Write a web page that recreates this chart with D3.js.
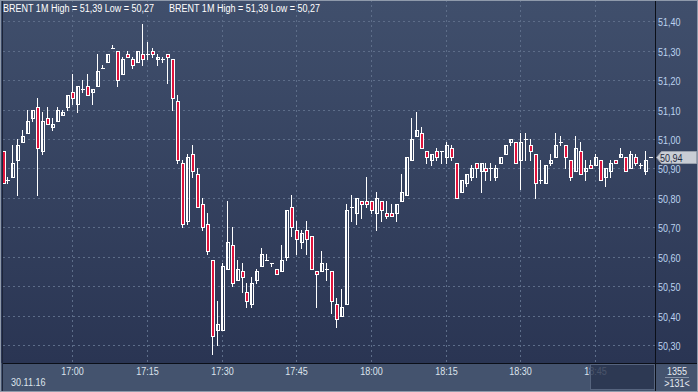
<!DOCTYPE html>
<html>
<head>
<meta charset="utf-8">
<script src="https://cdn.jsdelivr.net/npm/d3@7/dist/d3.min.js"></script>
<style>
  html, body { margin: 0; padding: 0; background: #2b3654; }
  svg { display: block; }
  text { font-family: "Liberation Sans", Arial, sans-serif; }
</style>
</head>
<body>
<svg id="chart" width="698" height="392"></svg>
<script>
// ---- Data (1-minute BRENT candles, 30.11.16, 16:46 .. 18:56) ----
const startTime = "2016-11-30T16:46:00";
const opens = [
  50.96,50.86,50.87,50.93,50.99,51.02,51.07,51.11,50.96,51.07,
  51.04,51.06,51.08,51.11,51.16,51.12,51.17,51.18,51.16,51.18,
  51.24,51.26,51.31,51.30,51.22,51.29,51.27,51.26,51.29,51.29,
  51.30,51.27,51.27,51.29,51.27,51.13,50.92,50.72,50.95,50.88,
  50.78,50.71,50.59,50.35,50.35,50.56,50.64,50.52,50.55,50.48,
  50.44,50.52,50.57,50.59,50.58,50.56,50.55,50.60,50.77,50.69,
  50.65,50.69,50.67,50.55,50.55,50.56,50.55,50.44,50.40,50.44,
  50.77,50.75,50.79,50.79,50.79,50.75,50.79,50.75,50.75,50.75,
  50.79,50.81,50.93,51.01,51.02,50.96,50.93,50.96,50.96,50.94,
  50.97,50.92,50.82,50.85,50.87,50.92,50.89,50.90,50.90,50.87,
  50.92,50.95,50.99,50.99,50.93,51.00,50.98,50.95,50.86,50.85,
  50.92,50.94,50.99,50.98,50.93,50.89,50.96,50.89,50.91,50.91,
  50.93,50.87,50.89,50.93,50.94,50.94,50.90,50.94,50.91,50.89,
  50.94
];
const highs = [
  50.96,50.87,50.98,51.00,51.03,51.10,51.10,51.14,51.09,51.11,
  51.07,51.11,51.10,51.15,51.22,51.18,51.20,51.22,51.17,51.29,
  51.25,51.29,51.32,51.30,51.28,51.30,51.28,51.30,51.39,51.33,
  51.31,51.29,51.28,51.29,51.27,51.15,50.93,50.95,50.98,50.90,
  50.80,50.75,50.59,50.45,50.58,50.79,50.70,50.59,50.58,50.51,
  50.53,50.56,50.63,50.61,50.58,50.56,50.64,50.76,50.81,50.72,
  50.69,50.72,50.67,50.55,50.62,50.58,50.55,50.46,50.49,50.78,
  50.81,50.80,50.79,50.87,50.79,50.82,50.79,50.79,50.78,50.78,
  50.88,50.94,51.07,51.09,51.04,50.96,50.95,50.97,50.96,50.99,
  50.98,50.92,50.86,50.88,50.91,50.92,50.92,50.92,50.92,50.91,
  50.94,50.98,51.00,50.99,51.02,51.02,51.00,50.95,50.93,50.91,
  50.95,51.02,51.01,50.98,50.93,51.01,50.99,50.93,50.93,50.95,
  50.93,50.90,50.93,50.93,50.97,50.94,50.96,50.95,50.92,50.96,
  50.94
];
const lows = [
  50.85,50.85,50.87,50.81,50.99,51.02,51.06,50.81,50.95,51.05,
  51.03,51.06,51.08,51.10,51.12,51.09,51.16,51.15,51.12,51.18,
  51.24,51.26,51.31,51.18,51.22,51.28,51.24,51.26,51.25,51.27,
  51.28,51.25,51.26,51.19,51.10,50.92,50.70,50.71,50.87,50.77,
  50.69,50.61,50.27,50.30,50.35,50.56,50.50,50.52,50.48,50.43,
  50.43,50.51,50.57,50.59,50.57,50.54,50.55,50.59,50.67,50.61,
  50.63,50.61,50.56,50.43,50.55,50.52,50.41,50.36,50.40,50.44,
  50.72,50.71,50.73,50.77,50.75,50.69,50.72,50.73,50.74,50.72,
  50.79,50.81,50.93,51.01,50.97,50.92,50.91,50.93,50.92,50.92,
  50.93,50.80,50.82,50.84,50.86,50.87,50.82,50.86,50.86,50.86,
  50.92,50.95,50.98,50.92,50.83,50.93,50.93,50.80,50.85,50.85,
  50.91,50.94,50.98,50.90,50.86,50.89,50.88,50.86,50.90,50.91,
  50.86,50.84,50.87,50.92,50.94,50.89,50.90,50.91,50.90,50.88,
  50.94
];
const closes = [
  50.85,50.86,50.92,50.98,51.01,51.06,51.10,50.97,51.06,51.05,
  51.05,51.10,51.09,51.15,51.14,51.18,51.17,51.15,51.17,51.23,
  51.24,51.29,51.31,51.20,51.27,51.28,51.25,51.30,51.27,51.29,
  51.29,51.28,51.27,51.28,51.14,50.93,50.71,50.94,50.89,50.77,
  50.70,50.62,50.33,50.37,50.57,50.65,50.51,50.56,50.53,50.45,
  50.51,50.55,50.61,50.59,50.58,50.54,50.59,50.76,50.70,50.66,
  50.68,50.66,50.56,50.54,50.58,50.56,50.45,50.39,50.43,50.76,
  50.77,50.80,50.78,50.78,50.76,50.80,50.76,50.74,50.74,50.78,
  50.82,50.94,51.00,51.03,50.97,50.94,50.95,50.94,50.96,50.98,
  50.94,50.80,50.86,50.88,50.90,50.90,50.92,50.89,50.90,50.90,
  50.94,50.98,51.00,50.92,50.99,51.00,50.96,50.85,50.86,50.91,
  50.93,50.98,50.99,50.94,50.87,50.97,50.88,50.90,50.90,50.94,
  50.86,50.90,50.92,50.92,50.95,50.89,50.95,50.92,50.91,50.93,
  50.94
];
const priceTicks = [50.30,50.40,50.50,50.60,50.70,50.80,50.90,51.00,51.10,51.20,51.30,51.40];
const timeTickLabels = ["17:00","17:15","17:30","17:45","18:00","18:15","18:30","18:45"];
const legendTexts = ["BRENT 1M High = 51,39 Low = 50,27", "BRENT 1M High = 51,39 Low = 50,27"];
const dateLabel = "30.11.16";
const barCount = "1355";
const visibleCount = ">131<";

// ---- Layout ----
const W = 698, H = 392;
const plotL = 3, plotR = 655, plotB = 363;

const parse = d3.timeParse("%Y-%m-%dT%H:%M:%S");
const t0 = parse(startTime);
const times = opens.map((_, i) => d3.timeMinute.offset(t0, i));
const candles = times.map((t, i) => ({t, o: opens[i], h: highs[i], l: lows[i], c: closes[i]}));

const x = d3.scaleTime().domain([times[0], times[times.length - 1]]).range([3.0, 650.3]);
const y = d3.scaleLinear().domain([50.30, 51.40]).range([345.6, 21.7]);
const px = v => Math.floor(x(v));
const py = v => Math.floor(y(v)) + 0.5;

const svg = d3.select("#chart");
const defs = svg.append("defs");
const grad = defs.append("linearGradient").attr("id", "bg").attr("x1", 0).attr("y1", 0).attr("x2", 0).attr("y2", 1);
grad.append("stop").attr("offset", "0%").attr("stop-color", "#404f6c");
grad.append("stop").attr("offset", "100%").attr("stop-color", "#2a3553");
defs.append("clipPath").attr("id", "plotClip").append("rect")
  .attr("x", plotL).attr("y", 0).attr("width", plotR - plotL).attr("height", plotB);

// backgrounds
svg.append("rect").attr("x", 0).attr("y", 0).attr("width", W).attr("height", plotB).attr("fill", "url(#bg)");
svg.append("rect").attr("x", 0).attr("y", plotB).attr("width", W).attr("height", H - plotB).attr("fill", "#44536e");

// grid
const grid = svg.append("g").attr("clip-path", "url(#plotClip)");
grid.selectAll("line.h").data(priceTicks).join("line")
  .attr("x1", plotL).attr("x2", plotR)
  .attr("y1", d => py(d)).attr("y2", d => py(d))
  .attr("stroke", "#5d6d89").attr("stroke-width", 1).attr("stroke-dasharray", "2,3");
const timeParseHM = d3.timeParse("%Y-%m-%d %H:%M");
const timeTicks = timeTickLabels.map(s => timeParseHM("2016-11-30 " + s));
grid.selectAll("line.v").data(timeTicks).join("line")
  .attr("x1", d => px(d) + 0.5).attr("x2", d => px(d) + 0.5)
  .attr("y1", 0).attr("y2", plotB)
  .attr("stroke", "#5d6d89").attr("stroke-width", 1).attr("stroke-dasharray", "2,3");

// candles
const cg = svg.append("g").attr("clip-path", "url(#plotClip)");
const g = cg.selectAll("g.c").data(candles).join("g");
g.append("line")
  .attr("x1", d => px(d.t) + 0.5).attr("x2", d => px(d.t) + 0.5)
  .attr("y1", d => Math.floor(y(d.h))).attr("y2", d => Math.floor(y(d.l)) + 1)
  .attr("stroke", "#ffffff").attr("stroke-width", 1);
g.each(function(d) {
  const sel = d3.select(this);
  const top = py(Math.max(d.o, d.c)), bot = py(Math.min(d.o, d.c));
  const p = px(d.t);
  if (bot - top < 1) {
    sel.append("line").attr("x1", p - 1).attr("x2", p + 3).attr("y1", top).attr("y2", top)
      .attr("stroke", "#ffffff").attr("stroke-width", 1);
  } else {
    sel.append("rect").attr("x", p - 0.5).attr("y", top).attr("width", 3).attr("height", bot - top)
      .attr("fill", d.c < d.o ? "#e0133c" : "#34405d")
      .attr("fill-opacity", d.c < d.o ? 1 : 0)
      .attr("stroke", "#ffffff").attr("stroke-width", 1);
  }
});

// frame lines
svg.append("line").attr("x1", plotL).attr("x2", W).attr("y1", plotB + 0.5).attr("y2", plotB + 0.5).attr("stroke", "#0b0f18");
svg.append("line").attr("x1", plotR + 0.5).attr("x2", plotR + 0.5).attr("y1", 0).attr("y2", H).attr("stroke", "#0b0f18");
svg.append("line").attr("x1", 2.5).attr("x2", 2.5).attr("y1", 0).attr("y2", H).attr("stroke", "#1c2438");

// legend
const sx = 0.82;
const legendX = [3, 169];
legendTexts.forEach((t, i) => {
  svg.append("text").attr("transform", `translate(${legendX[i]},12) scale(${sx},1)`)
    .attr("font-size", "11px").attr("fill", "#ffffff").text(t);
});

// right price axis
const ax = 0.86;
const yAxis = d3.axisRight(y).tickValues(priceTicks).tickSize(0)
  .tickFormat(d => d.toFixed(2).replace(".", ","));
const yg = svg.append("g").attr("transform", `translate(${plotR + 0.5},0)`).call(yAxis);
yg.select(".domain").remove();
yg.selectAll(".tick").attr("transform", d => `translate(0,${py(d)})`);
yg.selectAll("text").attr("x", 2.4 / ax).attr("dy", null).attr("y", 4.6)
  .attr("transform", `scale(${ax},1)`)
  .attr("font-family", "Liberation Sans, Arial, sans-serif")
  .attr("font-size", "10.5px").attr("fill", "#bcd3ef");

// bottom time axis
const xAxis = d3.axisBottom(x).tickValues(timeTicks).tickSize(0).tickFormat(d3.timeFormat("%H:%M"));
const xg = svg.append("g").attr("transform", `translate(0,${plotB})`).call(xAxis);
xg.select(".domain").remove();
xg.selectAll(".tick").attr("transform", d => `translate(${px(d) + 0.5},0)`);
xg.selectAll("text").attr("y", 12).attr("dy", null)
  .attr("transform", `scale(${ax},1)`)
  .attr("font-family", "Liberation Sans, Arial, sans-serif")
  .attr("font-size", "10.5px").attr("fill", "#dce3ec");
svg.append("text").attr("transform", `translate(11,386) scale(${ax},1)`)
  .attr("font-size", "10.5px").attr("fill", "#dce3ec").text(dateLabel);

// scroll thumb
svg.append("rect").attr("x", 590.5).attr("y", 364.5).attr("width", 64).attr("height", 25)
  .attr("fill", "#28334d").attr("fill-opacity", 0.82).attr("stroke", "#56647e").attr("stroke-width", 1);

// bottom right counter
svg.append("text").attr("transform", `translate(677,375) scale(${ax},1)`).attr("text-anchor", "middle")
  .attr("font-size", "10.5px").attr("fill", "#e6ebf2").text(barCount);
svg.append("line").attr("x1", 665).attr("x2", 689).attr("y1", 377.5).attr("y2", 377.5).attr("stroke", "#8592a6");
svg.append("text").attr("transform", `translate(677,387) scale(${ax},1)`).attr("text-anchor", "middle")
  .attr("font-size", "10.5px").attr("fill", "#e6ebf2").text(visibleCount);

// last price tag
const last = closes[closes.length - 1];
const ly = py(last);
svg.append("path")
  .attr("d", `M${plotR + 1.5},${ly} L${plotR + 6.5},${ly - 6} L696.5,${ly - 6} L696.5,${ly + 6} L${plotR + 6.5},${ly + 6} Z`)
  .attr("fill", "#c9cdd5").attr("stroke", "#9aa1ad").attr("stroke-width", 1);
svg.append("text").attr("transform", `translate(660,${ly + 4}) scale(${ax},1)`)
  .attr("font-size", "10.5px").attr("fill", "#1f2a40").text(last.toFixed(2).replace(".", ","));

// outer border
svg.append("rect").attr("x", 0.5).attr("y", 0.5).attr("width", W - 1).attr("height", H - 1)
  .attr("fill", "none").attr("stroke", "#8f9aab");
</script>
</body>
</html>
